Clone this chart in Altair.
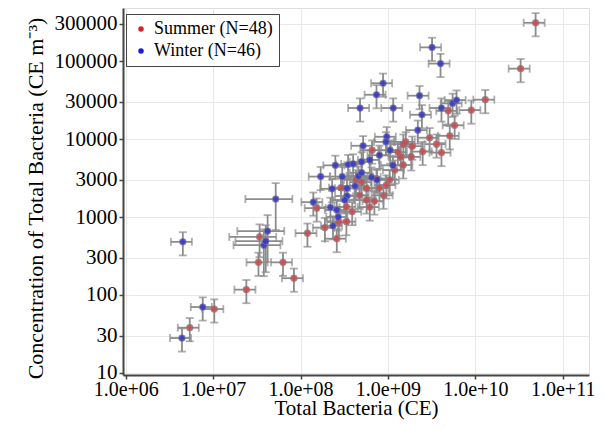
import altair as alt
import pandas as pd

SUMMER = "Summer (N=48)"
WINTER = "Winter (N=46)"

summer_x = [5.4e6, 1.03e7, 2.4e7, 3.3e7, 3.4e7, 6.3e7, 8.4e7, 1.2e8, 1.53e8, 1.9e8,
            2.6e8, 4.9e10, 3.3e10, 1.3e10, 9.0e9, 4.9e9, 5.8e9, 5.1e9, 4.1e9, 2.5e9,
            3.0e9, 6.6e8, 1.5e9, 1.6e9, 3.6e9, 1.9e9, 1.3e9, 7.4e8, 9.6e8, 1.05e9,
            2.9e8, 5.7e8, 4.75e8, 5.7e8, 8.9e8, 7.0e8, 3.9e8, 3.35e8, 6.2e8, 3.35e8,
            2.75e8, 1.4e9, 1.5e9, 1.85e9, 4.3e8, 8.0e8, 1.2e9, 5.0e8]
summer_y = [38, 66, 117, 262, 555, 262, 164, 620, 1300, 730,
            527, 310000, 80000, 32000, 23500, 23000, 15000, 11000, 6700, 6900,
            10400, 7200, 8600, 9200, 8600, 8100, 6800, 3100, 2570, 3000,
            2380, 2330, 1900, 1650, 1900, 1600, 1170, 870, 1340, 1350,
            860, 5900, 4650, 5900, 3000, 2350, 4000, 2800]
summer_xerr = [0.27, 0.27, 0.27, 0.27, 0.55, 0.27, 0.27, 0.27, 0.27, 0.27,
               0.27, 0.27, 0.27, 0.27, 0.27, 0.27, 0.27, 0.27, 0.27, 0.27,
               0.27, 0.27, 0.27, 0.27, 0.27, 0.27, 0.27, 0.27, 0.27, 0.27,
               0.27, 0.27, 0.27, 0.27, 0.27, 0.27, 0.27, 0.27, 0.27, 0.27,
               0.27, 0.27, 0.27, 0.27, 0.27, 0.27, 0.27, 0.27]
summer_yerr = [0.33, 0.33, 0.33, 0.33, 0.45, 0.33, 0.33, 0.33, 0.33, 0.33,
               0.33, 0.33, 0.33, 0.33, 0.33, 0.33, 0.33, 0.33, 0.33, 0.33,
               0.33, 0.33, 0.33, 0.33, 0.33, 0.33, 0.33, 0.33, 0.33, 0.33,
               0.33, 0.33, 0.33, 0.33, 0.33, 0.33, 0.33, 0.33, 0.33, 0.33,
               0.33, 0.33, 0.33, 0.33, 0.33, 0.33, 0.33, 0.33]

winter_x = [4.5e6, 4.4e6, 7.6e6, 3.8e7, 4.0e7, 4.2e7, 5.2e7, 1.4e8, 1.7e8, 2.5e8,
            3.5e8, 2.2e8, 2.3e8, 3.0e8, 3.2e9, 4.0e9, 8.8e8, 7.4e8, 4.8e8, 1.15e9,
            2.3e9, 2.45e9, 4.1e9, 5.5e9, 6.1e9, 2.2e9, 9.7e8, 1.06e9, 1.14e9, 9.5e8,
            5.2e8, 4.0e8, 5.0e8, 4.6e8, 3.4e8, 2.6e8, 2.35e8, 2.7e8, 5.0e8, 3.4e8,
            7.5e8, 6.5e8, 6.2e8, 4.2e8, 8.0e8, 3.2e8]
winter_y = [480, 28, 70, 435, 490, 660, 1700, 1550, 3300, 4600,
            4700, 1330, 2300, 3300, 150000, 93000, 52000, 37000, 25000, 25000,
            36000, 20500, 25000, 28700, 31600, 13000, 10700, 7200, 4600, 9200,
            8200, 4800, 5100, 3350, 2330, 1230, 770, 1000, 3700, 1860,
            3000, 3250, 5400, 2500, 6200, 1650]
winter_xerr = [0.27, 0.27, 0.27, 0.55, 0.55, 0.55, 0.55, 0.27, 0.27, 0.27,
               0.27, 0.27, 0.27, 0.27, 0.27, 0.27, 0.27, 0.27, 0.27, 0.27,
               0.27, 0.27, 0.27, 0.27, 0.27, 0.27, 0.27, 0.27, 0.27, 0.27,
               0.27, 0.27, 0.27, 0.27, 0.27, 0.27, 0.27, 0.27, 0.27, 0.27,
               0.27, 0.27, 0.27, 0.27, 0.27, 0.27]
winter_yerr = [0.33, 0.33, 0.33, 0.6, 0.6, 0.6, 0.6, 0.33, 0.33, 0.33,
               0.33, 0.33, 0.33, 0.33, 0.33, 0.33, 0.33, 0.33, 0.33, 0.33,
               0.33, 0.33, 0.33, 0.33, 0.33, 0.33, 0.33, 0.33, 0.33, 0.33,
               0.33, 0.33, 0.33, 0.33, 0.33, 0.33, 0.33, 0.33, 0.33, 0.33,
               0.33, 0.33, 0.33, 0.33, 0.33, 0.33]

x_ticks = [1e6, 1e7, 1e8, 1e9, 1e10, 1e11]
y_ticks = [10, 30, 100, 300, 1000, 3000, 10000, 30000, 100000, 300000]

rows = []
for label, xs, ys, exs, eys in [(SUMMER, summer_x, summer_y, summer_xerr, summer_yerr),
                                (WINTER, winter_x, winter_y, winter_xerr, winter_yerr)]:
    for x, y, ex, ey in zip(xs, ys, exs, eys):
        rows.append(dict(season=label, x=x, y=y,
                         xlo=x * (1 - ex), xhi=x * (1 + ex),
                         ylo=y * (1 - ey), yhi=y * (1 + ey)))
df = pd.DataFrame(rows)

FONT = "Liberation Serif"
GREY = "#8c8c8c"
RED = "#cc4a4a"
BLUE = "#3434c4"

xscale = alt.Scale(type="log", domain=[9.3e5, 2.0e11], nice=False)
yscale = alt.Scale(type="log", domain=[9.4, 4.8e5], nice=False)

XT = "Total Bacteria (CE)"
YT = "Concentration of Total Bacteria (CE m\u207b\u00b3)"

xaxis = alt.Axis(values=x_ticks,
                 labelExpr="'1.0e+' + (round(log(datum.value)/LN10) < 10 ? '0' : '') + format(round(log(datum.value)/LN10), 'd')",
                 grid=True, gridColor="#e8e8e8", gridWidth=1,
                 tickColor="#444", tickSize=4, tickWidth=1.5,
                 domainColor="#444", domainWidth=2,
                 labelFont=FONT, labelFontSize=20, labelColor="black", labelPadding=0,
                 labelFlush=False, labelOverlap=False,
                 titleFont=FONT, titleFontSize=21, titleFontWeight="normal",
                 titleColor="black", titlePadding=-2)
yaxis = alt.Axis(values=y_ticks, format="d",
                 grid=True, gridColor="#e8e8e8", gridWidth=1,
                 tickColor="#444", tickSize=4, tickWidth=1.5,
                 domainColor="#444", domainWidth=2,
                 labelFont=FONT, labelFontSize=21, labelColor="black", labelPadding=2,
                 labelFlush=False, labelOverlap=False,
                 titleFont=FONT, titleFontSize=22, titleFontWeight="normal",
                 titleColor="black", titleX=-88, titleY=190, titleBaseline="middle",
                 titleAlign="center", titleAngle=270)

def X(field):
    return alt.X(field, type="quantitative", scale=xscale, axis=xaxis, title=XT)

def Y(field):
    return alt.Y(field, type="quantitative", scale=yscale, axis=yaxis, title=YT)

base = alt.Chart(df)

hbar = base.mark_rule(color=GREY, strokeWidth=1.8).encode(x=X("xlo"), x2="xhi", y=Y("y"))
vbar = base.mark_rule(color=GREY, strokeWidth=1.8).encode(x=X("x"), y=Y("ylo"), y2="yhi")
cap_l = base.mark_tick(orient="vertical", color=GREY, size=8, thickness=1.8).encode(x=X("xlo"), y=Y("y"))
cap_r = base.mark_tick(orient="vertical", color=GREY, size=8, thickness=1.8).encode(x=X("xhi"), y=Y("y"))
cap_b = base.mark_tick(orient="horizontal", color=GREY, size=8, thickness=1.8).encode(x=X("x"), y=Y("ylo"))
cap_t = base.mark_tick(orient="horizontal", color=GREY, size=8, thickness=1.8).encode(x=X("x"), y=Y("yhi"))

cscale = alt.Scale(domain=[SUMMER, WINTER], range=[RED, BLUE])
pts = base.mark_point(filled=True, size=45, opacity=0.85, stroke="#808090", strokeWidth=0.8).encode(
    x=X("x"), y=Y("y"),
    color=alt.Color("season:N", scale=cscale, legend=None),
)

leg = alt.Legend(orient="none", legendX=3, legendY=6, title=None,
                 labelFont=FONT, labelFontSize=18, labelColor="black",
                 symbolSize=30, symbolOpacity=1, symbolStrokeWidth=0,
                 padding=6, rowPadding=4, strokeColor="#444", fillColor="white",
                 labelLimit=300)
legend_layer = base.mark_point(filled=True, opacity=0).encode(
    x=X("x"), y=Y("y"),
    color=alt.Color("season:N", scale=alt.Scale(domain=[SUMMER, WINTER], range=["#e02020", "#1a1ae0"]), legend=leg),
    shape=alt.Shape("season:N", scale=alt.Scale(domain=[SUMMER, WINTER], range=["diamond", "circle"]), legend=leg),
)

chart = alt.layer(hbar, vbar, cap_l, cap_r, cap_b, cap_t, pts, legend_layer).resolve_scale(
    color="independent"
).properties(
    width=466, height=367,
    padding={"left": 115, "top": 0, "right": 7, "bottom": 45},
    autosize="none",
).configure_view(stroke="#444", strokeWidth=2).configure(font=FONT)

chart.save("out.html", embed_options={"renderer": "svg", "actions": False})
